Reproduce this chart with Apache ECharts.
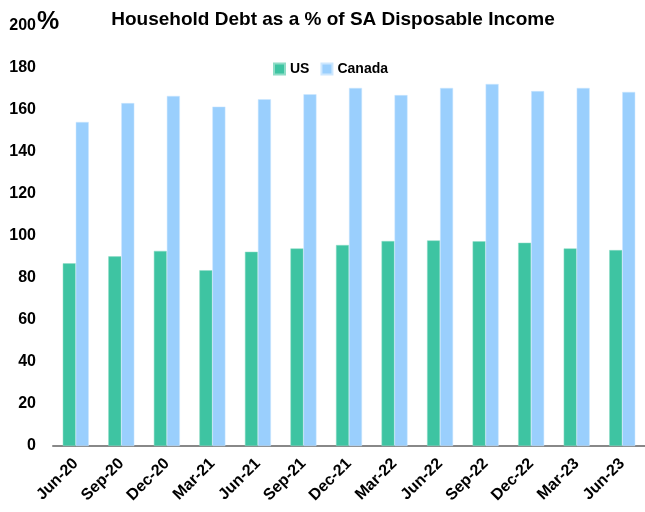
<!DOCTYPE html>
<html><head><meta charset="utf-8">
<script src="https://cdn.jsdelivr.net/npm/echarts@6/dist/echarts.min.js"></script>
<style>html,body{margin:0;padding:0;background:#fff}#c{width:645px;height:512px}</style>
</head><body><div id="c"></div>
<script>
const categories = ['Jun-20','Sep-20','Dec-20','Mar-21','Jun-21','Sep-21','Dec-21','Mar-22','Jun-22','Sep-22','Dec-22','Mar-23','Jun-23'];
const usValues = [87.0, 90.3, 92.9, 83.7, 92.5, 94.1, 95.7, 97.6, 97.9, 97.5, 96.8, 94.1, 93.3];
const canadaValues = [154.3, 163.3, 166.7, 161.6, 165.1, 167.5, 170.5, 167.1, 170.5, 172.4, 169.0, 170.5, 168.6];
const yTicks = {min: 0, max: 200, interval: 20};
const titleText = 'Household Debt as a % of SA Disposable Income';
const FONT = '"Liberation Sans", Arial, sans-serif';

const chart = echarts.init(document.getElementById('c'), null, {renderer: 'canvas'});
chart.setOption({
  animation: false,
  title: {text: titleText, left: 328, textAlign: 'center', top: 5,
    textStyle: {fontFamily: FONT, fontWeight: 'bold', fontSize: 19, color: '#000'}},
  legend: {data: ['US', 'Canada'], top: 57, left: 268, itemWidth: 11, itemHeight: 11, itemGap: 11,
    icon: 'rect', textStyle: {fontFamily: FONT, fontWeight: 'bold', fontSize: 14, color: '#000'}},
  graphic: [{type: 'text', left: 37, top: 10,
    style: {text: '%', font: 'bold 25px ' + FONT, fill: '#000'}}],
  grid: {left: 53, top: 26, width: 596, height: 420, containLabel: false},
  xAxis: {type: 'category', data: categories,
    axisLine: {lineStyle: {color: '#888', width: 2}}, axisTick: {show: false},
    axisLabel: {rotate: 45, interval: 0, fontFamily: FONT, fontWeight: 'bold', fontSize: 16, color: '#000', margin: 15}},
  yAxis: {type: 'value', min: yTicks.min, max: yTicks.max, interval: yTicks.interval,
    splitLine: {show: false}, axisLine: {show: false}, axisTick: {show: false},
    axisLabel: {fontFamily: FONT, fontWeight: 'bold', fontSize: 16, color: '#000', margin: 17}},
  series: [
    {name: 'US', type: 'bar', data: usValues, barWidth: 13, barGap: '0%',
      itemStyle: {color: '#3EC4A2', borderColor: '#8EDCC6', borderWidth: 0.5}},
    {name: 'Canada', type: 'bar', data: canadaValues, barWidth: 13,
      itemStyle: {color: '#9ACFFD', borderColor: '#CDE7FE', borderWidth: 0.5}}
  ]
});
</script></body></html>
